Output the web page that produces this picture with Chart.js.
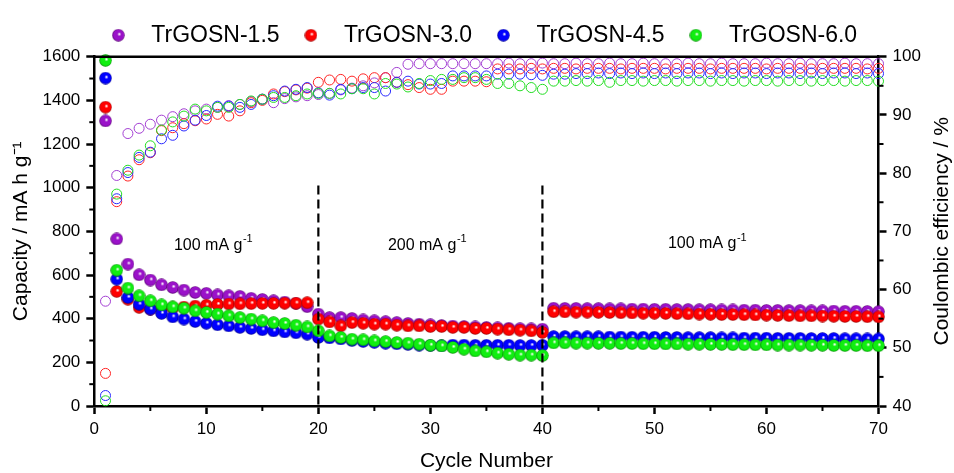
<!DOCTYPE html>
<html>
<head>
<meta charset="utf-8">
<script src="https://cdn.jsdelivr.net/npm/chart.js@4.4.1/dist/chart.umd.min.js"></script>
<style>
  html, body { margin: 0; padding: 0; background: #fff; }
  #wrap { width: 954px; height: 473px; }
</style>
</head>
<body>
<div id="wrap"><canvas id="myChart" width="954" height="473"></canvas></div>
<script>
'use strict';

// ====================== DATA ======================//
let seriesNames = ['TrGOSN-1.5', 'TrGOSN-3.0', 'TrGOSN-4.5', 'TrGOSN-6.0'];

let cycles = [1, 2, 3, 4, 5, 6, 7, 8, 9, 10,
  11, 12, 13, 14, 15, 16, 17, 18, 19, 20,
  21, 22, 23, 24, 25, 26, 27, 28, 29, 30,
  31, 32, 33, 34, 35, 36, 37, 38, 39, 40,
  41, 42, 43, 44, 45, 46, 47, 48, 49, 50,
  51, 52, 53, 54, 55, 56, 57, 58, 59, 60,
  61, 62, 63, 64, 65, 66, 67, 68, 69, 70];

// capacity, mA h g-1 (left axis, filled spheres)
let capacity15 = [1306, 765, 650, 601, 577, 555, 543, 531, 520, 516,
  509, 505, 502, 493, 488, 482, 476, 470, 455, 421,
  405, 405, 401, 394, 390, 386, 382, 378, 375, 372,
  369, 366, 364, 362, 360, 358, 356, 354, 353, 352,
  448, 447, 447, 446, 446, 445, 445, 444, 444, 443,
  443, 442, 442, 441, 441, 440, 440, 439, 439, 438,
  438, 437, 437, 436, 436, 435, 434, 434, 433, 432];
let capacity30 = [1369, 525, 489, 452, 444, 446, 449, 453, 458, 462,
  465, 467, 468, 469, 470, 470, 471, 471, 473, 398,
  385, 367, 382, 379, 375, 375, 370, 367, 367, 364,
  364, 360, 360, 355, 355, 352, 349, 347, 344, 337,
  432, 431, 430, 430, 429, 428, 427, 426, 425, 425,
  424, 423, 422, 421, 420, 419, 419, 418, 417, 416,
  415, 414, 413, 413, 412, 411, 410, 410, 409, 408];
let capacity45 = [1502, 581, 497, 466, 444, 424, 408, 398, 387, 379,
  372, 367, 360, 355, 349, 344, 339, 335, 329, 314,
  312, 307, 300, 296, 292, 288, 285, 282, 279, 277,
  276, 279, 279, 278, 278, 278, 278, 277, 277, 278,
  318, 318, 317, 317, 317, 316, 316, 315, 315, 315,
  314, 314, 313, 313, 313, 312, 312, 311, 311, 311,
  310, 310, 310, 309, 309, 309, 308, 308, 307, 307];
let capacity60 = [1583, 622, 540, 505, 482, 463, 454, 448, 436, 428,
  421, 413, 405, 398, 390, 382, 378, 370, 362, 344,
  321, 314, 306, 303, 298, 295, 291, 288, 283, 278,
  275, 268, 260, 252, 248, 242, 237, 233, 233, 231,
  289, 289, 288, 288, 287, 287, 286, 286, 285, 285,
  284, 284, 283, 283, 282, 282, 281, 281, 280, 280,
  279, 279, 279, 278, 278, 277, 277, 277, 276, 276];

// coulombic efficiency, % (right axis, open circles)
let ce15 = [58.0, 79.6, 86.8, 87.7, 88.4, 89.1, 89.7, 90.2, 90.7, 91.0,
  91.3, 91.6, 91.8, 92.3, 92.7, 92.1, 92.8, 93.1, 93.3, 93.5,
  93.7, 94.3, 94.6, 95.0, 95.5, 96.4, 97.3, 98.7, 98.8, 98.8,
  98.8, 98.8, 98.8, 98.8, 98.8, 98.8, 98.9, 98.8, 98.8, 98.9,
  98.8, 98.8, 98.9, 98.8, 98.8, 98.9, 98.8, 98.8, 98.9, 98.8,
  98.8, 98.8, 98.9, 98.8, 98.8, 98.9, 98.8, 98.8, 98.8, 98.9,
  98.8, 98.8, 98.9, 98.8, 98.8, 98.8, 98.9, 98.8, 98.8, 98.8];
let ce30 = [45.6, 75.1, 79.5, 82.3, 83.5, 87.3, 87.8, 88.5, 89.0, 89.3,
  90.1, 89.8, 90.7, 92.1, 92.5, 93.6, 94.0, 94.3, 94.6, 95.6,
  96.0, 96.1, 95.8, 96.2, 96.4, 96.4, 95.6, 95.2, 94.7, 94.4,
  94.4, 95.8, 95.8, 95.8, 95.7, 97.9, 97.9, 97.9, 98.0, 97.9,
  98.0, 98.0, 97.9, 98.0, 98.0, 98.0, 97.9, 98.0, 98.0, 98.0,
  97.9, 98.0, 98.0, 98.0, 97.9, 98.0, 98.0, 98.0, 98.0, 97.9,
  98.0, 98.0, 98.0, 97.9, 98.0, 98.0, 98.0, 98.0, 97.9, 98.0];
let ce45 = [41.8, 75.6, 80.1, 82.7, 83.6, 85.9, 86.5, 88.1, 89.1, 89.9,
  91.5, 91.5, 91.3, 91.8, 92.7, 93.3, 94.1, 94.4, 94.7, 93.8,
  93.4, 94.4, 94.5, 94.7, 94.7, 94.1, 95.6, 95.8, 95.3, 95.3,
  95.4, 96.7, 96.7, 96.7, 96.7, 97.0, 97.0, 97.0, 96.9, 96.8,
  97.0, 97.0, 97.1, 97.1, 97.2, 97.1, 97.2, 97.1, 97.2, 97.1,
  97.2, 97.1, 97.2, 97.2, 97.1, 97.2, 97.1, 97.2, 97.2, 97.1,
  97.2, 97.2, 97.1, 97.2, 97.1, 97.2, 97.2, 97.1, 97.2, 97.1];
let ce60 = [40.9, 76.4, 80.5, 83.1, 84.7, 87.4, 88.8, 89.8, 91.0, 90.7,
  91.3, 91.3, 91.8, 92.4, 92.7, 93.0, 93.0, 93.3, 93.6, 93.7,
  93.7, 93.6, 94.5, 94.5, 93.6, 95.4, 95.3, 94.8, 95.4, 95.9,
  96.1, 96.1, 96.4, 96.4, 96.1, 95.4, 95.4, 95.0, 94.7, 94.4,
  95.8, 95.8, 95.9, 95.8, 95.9, 95.6, 95.9, 95.9, 95.8, 95.9,
  95.9, 95.8, 95.9, 95.9, 95.8, 95.9, 95.9, 95.8, 95.9, 95.9,
  95.8, 95.9, 95.9, 95.8, 95.9, 95.9, 95.8, 95.9, 95.9, 95.8];

// ticks
let xTicks = [0, 10, 20, 30, 40, 50, 60, 70];
let xMinorTicks = [5, 15, 25, 35, 45, 55, 65];
let capTicks = [0, 200, 400, 600, 800, 1000, 1200, 1400, 1600];
let capMinorTicks = [100, 300, 500, 700, 900, 1100, 1300, 1500];
let ceTicks = [40, 50, 60, 70, 80, 90, 100];
let ceMinorTicks = [45, 55, 65, 75, 85, 95];

// current density regions
let rateLabels = ['100', '200', '100'];
let rateChanges = [20, 40];

let capacitySeries = [capacity15, capacity30, capacity45, capacity60];
let ceSeries = [ce15, ce30, ce45, ce60];

// ====================== STYLE ======================//
let sphereColors = ['#9a12c9', '#ff0000', '#0000ff', '#11ee11'];
let sphereEdges = ['#55006f', '#990000', '#00008f', '#008a00'];
let ringColors = ['#a23ed2', '#ff2424', '#2828ff', '#22dd22'];

Chart.defaults.font.family = "'Liberation Sans', Arial, sans-serif";
Chart.defaults.color = '#000';

function makeSphere(base, edge) {
  let c = document.createElement('canvas');
  c.width = 13;
  c.height = 13;
  let g = c.getContext('2d');
  let grad = g.createRadialGradient(7.6, 5.2, 0.3, 6.5, 6.5, 6.3);
  grad.addColorStop(0, '#ffffff');
  grad.addColorStop(0.28, base);
  grad.addColorStop(0.78, base);
  grad.addColorStop(1, edge);
  g.fillStyle = grad;
  g.beginPath();
  g.arc(6.5, 6.5, 6.2, 0, Math.PI * 2);
  g.fill();
  return c;
}

let spheres = sphereColors.map(function (c, i) { return makeSphere(c, sphereEdges[i]); });

function toPoints(values) {
  return values.map(function (v, i) { return { x: cycles[i], y: v }; });
}

let datasets = [];
for (let i = 0; i < seriesNames.length; i++) {
  datasets.push({
    label: seriesNames[i],
    data: toPoints(capacitySeries[i]),
    yAxisID: 'y',
    pointStyle: spheres[i],
    pointRadius: 6,
    pointHoverRadius: 6,
    backgroundColor: sphereColors[i],
    borderColor: sphereColors[i],
    order: 10 - i,
    clip: false
  });
}
for (let i = 0; i < seriesNames.length; i++) {
  datasets.push({
    label: seriesNames[i] + ' CE',
    data: toPoints(ceSeries[i]),
    yAxisID: 'y1',
    pointStyle: 'circle',
    pointRadius: 5,
    pointHoverRadius: 5,
    pointBorderWidth: 1,
    backgroundColor: 'rgba(0,0,0,0)',
    borderColor: ringColors[i],
    order: 20 - i,
    clip: false
  });
}

function setTicks(list) {
  return function (axis) {
    axis.ticks = list.map(function (v) { return { value: v }; });
  };
}

function plainNumber(v) {
  return String(v);
}

// ====================== PLUGIN: frame, minor ticks, dashes, labels ======================//
let extrasPlugin = {
  id: 'extras',
  afterDatasetsDraw: function (chart) {
    let ctx = chart.ctx;
    let area = chart.chartArea;
    let x = chart.scales.x;
    let y = chart.scales.y;
    let y1 = chart.scales.y1;

    ctx.save();
    ctx.strokeStyle = '#000';

    // dashed separators
    ctx.lineWidth = 2.2;
    ctx.setLineDash([9, 5]);
    rateChanges.forEach(function (c) {
      let px = x.getPixelForValue(c);
      ctx.beginPath();
      ctx.moveTo(px, y.getPixelForValue(1010));
      ctx.lineTo(px, area.bottom);
      ctx.stroke();
    });
    ctx.setLineDash([]);

    // top frame line
    ctx.lineWidth = 2.5;
    ctx.beginPath();
    ctx.moveTo(area.left - 1.25, area.top);
    ctx.lineTo(area.right + 1.25, area.top);
    ctx.stroke();

    // minor ticks
    ctx.lineWidth = 2;
    xMinorTicks.forEach(function (v) {
      let px = x.getPixelForValue(v);
      ctx.beginPath();
      ctx.moveTo(px, area.bottom);
      ctx.lineTo(px, area.bottom + 5);
      ctx.stroke();
    });
    capMinorTicks.forEach(function (v) {
      let py = y.getPixelForValue(v);
      ctx.beginPath();
      ctx.moveTo(area.left, py);
      ctx.lineTo(area.left - 5, py);
      ctx.stroke();
    });
    ceMinorTicks.forEach(function (v) {
      let py = y1.getPixelForValue(v);
      ctx.beginPath();
      ctx.moveTo(area.right, py);
      ctx.lineTo(area.right + 5, py);
      ctx.stroke();
    });

    // current density labels
    let spots = [[10.6, 737], [29.7, 737], [54.7, 744]];
    ctx.fillStyle = '#000';
    ctx.textBaseline = 'middle';
    ctx.textAlign = 'left';
    rateLabels.forEach(function (r, i) {
      let main = r + ' mA g';
      ctx.font = "16px 'Liberation Sans', Arial, sans-serif";
      let w1 = ctx.measureText(main).width;
      ctx.font = "11px 'Liberation Sans', Arial, sans-serif";
      let w2 = ctx.measureText('-1').width;
      let cx = x.getPixelForValue(spots[i][0]);
      let cy = y.getPixelForValue(spots[i][1]);
      let left = cx - (w1 + w2) / 2;
      ctx.font = "16px 'Liberation Sans', Arial, sans-serif";
      ctx.fillText(main, left, cy);
      ctx.font = "11px 'Liberation Sans', Arial, sans-serif";
      ctx.fillText('-1', left + w1 + 0.5, cy - 6);
    });

    // right axis title (reads bottom to top)
    ctx.font = "21px 'Liberation Sans', Arial, sans-serif";
    ctx.textAlign = 'center';
    ctx.translate(chart.width - 12, (area.top + area.bottom) / 2);
    ctx.rotate(-Math.PI / 2);
    ctx.fillText('Coulombic efficiency / %', 0, 0);
    ctx.restore();
  }
};

// ====================== CHART ======================//
let chartObject = {
  type: 'scatter',
  data: { datasets: datasets },
  options: {
    responsive: false,
    animation: false,
    events: [],
    layout: { padding: 0 },
    plugins: {
      tooltip: { enabled: false },
      legend: {
        display: true,
        position: 'top',
        align: 'center',
        labels: {
          usePointStyle: true,
          pointStyleWidth: 43,
          padding: 9.8,
          color: '#000',
          font: { size: 23 },
          generateLabels: function () {
            return seriesNames.map(function (name, i) {
              return {
                text: name,
                pointStyle: spheres[i],
                fillStyle: sphereColors[i],
                strokeStyle: sphereColors[i],
                lineWidth: 0,
                hidden: false,
                datasetIndex: i,
                fontColor: '#000'
              };
            });
          }
        }
      }
    },
    scales: {
      x: {
        type: 'linear',
        position: 'bottom',
        min: 0,
        max: 70,
        afterBuildTicks: setTicks(xTicks),
        afterFit: function (axis) { axis.height = 67; },
        grid: { drawOnChartArea: false, tickLength: 8, tickWidth: 2.5, tickColor: '#000' },
        border: { color: '#000', width: 2.5 },
        ticks: { padding: 5, font: { size: 17 }, color: '#000', maxRotation: 0, callback: plainNumber },
        title: { display: true, text: 'Cycle Number', font: { size: 21 }, padding: { top: 0, bottom: -1 } }
      },
      y: {
        type: 'linear',
        position: 'left',
        min: 0,
        max: 1600,
        afterBuildTicks: setTicks(capTicks),
        afterFit: function (axis) { axis.width = 94.3; axis.paddingTop = 56.7; },
        grid: { drawOnChartArea: false, tickLength: 8, tickWidth: 2.5, tickColor: '#000' },
        border: { color: '#000', width: 2.5 },
        ticks: { padding: 6, font: { size: 17 }, color: '#000', callback: plainNumber },
        title: { display: true, text: 'Capacity / mA h g\u207B\u00B9', font: { size: 21 }, padding: { top: 9 } }
      },
      y1: {
        type: 'linear',
        position: 'right',
        min: 40,
        max: 100,
        afterBuildTicks: setTicks(ceTicks),
        afterFit: function (axis) { axis.width = 75.5; },
        grid: { drawOnChartArea: false, tickLength: 8, tickWidth: 2.5, tickColor: '#000' },
        border: { color: '#000', width: 2.5 },
        ticks: { padding: 6, font: { size: 17 }, color: '#000', callback: plainNumber }
      }
    }
  },
  plugins: [extrasPlugin]
};

let ctx = document.getElementById('myChart').getContext('2d');
let myChart = new Chart(ctx, chartObject);
</script>
</body>
</html>
